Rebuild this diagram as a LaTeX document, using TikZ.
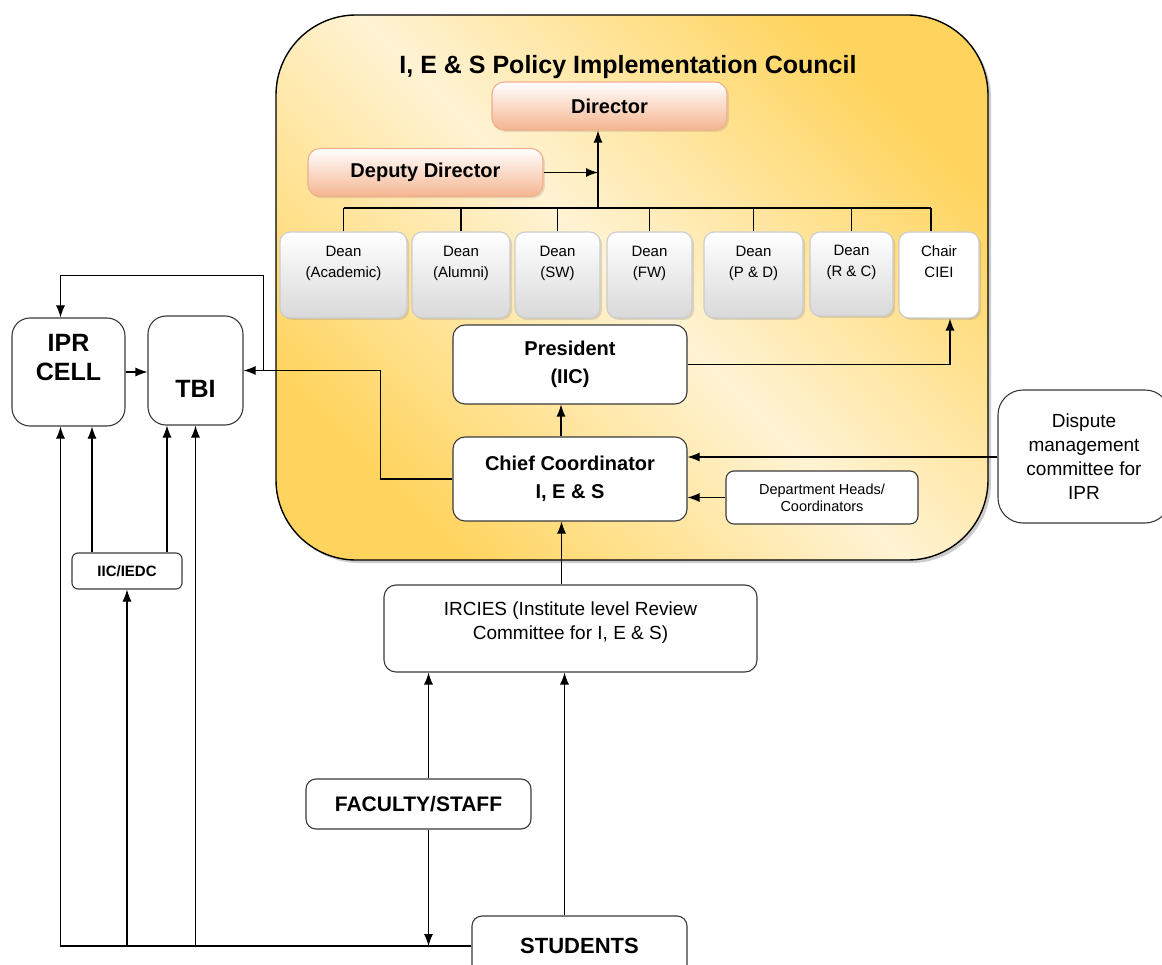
\documentclass[tikz,border=0pt]{standalone}
\usepackage{fontspec}
\setmainfont{Liberation Sans}
\usetikzlibrary{arrows.meta,positioning,shadows}
\definecolor{gold}{HTML}{FFD45E}
\definecolor{cream}{HTML}{FFF3D4}
\definecolor{salmon}{HTML}{F5B590}
\definecolor{salmonedge}{HTML}{F0AE8A}
\definecolor{edge}{HTML}{3A3A3A}

\begin{document}
\begin{tikzpicture}[
  x=1pt, y=-1pt,
  box/.style={draw=edge, line width=1.1pt, rounded corners=12pt, align=center, fill=white, inner sep=2pt},
  council/.style={draw=black, line width=1.4pt, rounded corners=80pt, minimum width=712pt, minimum height=545pt,
    top color=gold, bottom color=gold, middle color=cream, shading angle=-45,
    drop shadow={shadow xshift=3pt, shadow yshift=-3pt, opacity=.4}},
  head/.style={box, draw=salmonedge, top color=white, bottom color=salmon, minimum width=235pt, minimum height=48pt,
    font=\fontsize{20}{24}\selectfont\bfseries, drop shadow={shadow xshift=2pt, shadow yshift=-2pt, opacity=.2}},
  dean/.style={box, draw=gray!40, rounded corners=10pt, top color=white, bottom color=gray!30, minimum height=86pt,
    font=\fontsize{15}{21}\selectfont, text depth=26pt, drop shadow={shadow xshift=2pt, shadow yshift=-2pt, opacity=.25}},
  big/.style={box, minimum width=234pt, font=\fontsize{20}{28}\selectfont\bfseries},
  arr/.style={-{Latex[length=12pt,width=9pt]}, line width=1.1pt},
  link/.style={line width=1.1pt}
]
\path[fill=white, use as bounding box] (0,0) rectangle (1162,965);

% council frame
\node[council] (council) at (632,287.5) {};
\node[font=\fontsize{25}{30}\selectfont\bfseries] (title) at (628,67) {I, E \& S Policy Implementation Council};
\node[head] (dir) at (609.5,106) {Director};
\node[head] (dep) at (425.5,172.5) {Deputy Director};
\coordinate (bus) at (598,208);

% deans
\node[dean, minimum width=127pt] (acad) at (343.5,275) {Dean\\(Academic)};
\node[dean, minimum width=98pt] (alum) at (461,275) {Dean\\(Alumni)};
\node[dean, minimum width=85pt] (sw) at (557.5,275) {Dean\\(SW)};
\node[dean, minimum width=85pt] (fw) at (649.5,275) {Dean\\(FW)};
\node[dean, minimum width=99pt] (pd) at (753.5,275) {Dean\\(P \& D)};
\node[dean, minimum width=83pt, minimum height=84pt] (rc) at (851.5,274) {Dean\\(R \& C)};
\node[dean, minimum width=80pt, top color=white, bottom color=white] (chair) at (939,275) {Chair\\CIEI};

\node[big, minimum height=79pt] (pres) at (570,364.5) {President\\(IIC)};
\node[big, minimum height=84pt] (chief) at (570,479) {Chief Coordinator\\I, E \& S};
\node[box, font=\fontsize{14.5}{17}\selectfont, rounded corners=8pt, minimum width=192pt, minimum height=53pt] (dept) at (822,497.5) {Department Heads/\\Coordinators};

% outside the council
\node[box, font=\fontsize{19}{24}\selectfont, rounded corners=25pt, minimum width=172pt, minimum height=133pt] (disp) at (1084,456.5) {Dispute\\management\\committee for\\IPR};
\node[box, font=\fontsize{25}{29}\selectfont\bfseries, rounded corners=18pt, minimum width=113pt, minimum height=108pt, text depth=29pt] (ipr) at (68.5,372) {IPR\\CELL};
\node[box, font=\fontsize{25}{29}\selectfont\bfseries, rounded corners=18pt, minimum width=95pt, minimum height=109pt, text height=54pt] (tbi) at (195.5,370.5) {TBI};
\node[box, font=\fontsize{15}{18}\selectfont\bfseries, rounded corners=6pt, minimum width=110pt, minimum height=36pt] (iic) at (127,571) {IIC/IEDC};
\node[box, font=\fontsize{19}{24}\selectfont, minimum width=373pt, minimum height=87pt, text depth=16pt] (irc) at (570.5,628.5) {IRCIES (Institute level Review\\Committee for I, E \& S)};
\node[box, font=\fontsize{21}{25}\selectfont\bfseries, rounded corners=10pt, minimum width=225pt, minimum height=50pt] (fac) at (418.5,804) {FACULTY/STAFF};
\node[box, font=\fontsize{22}{26}\selectfont\bfseries, rounded corners=10pt, minimum width=215pt, minimum height=60pt] (stu) at (579.5,946) {STUDENTS};

% council connectors
\draw[arr] (bus) -- (bus |- dir.south);
\draw[arr] (dep.east) -- (dep.east -| bus);
\draw[link] (acad.north |- bus) -- ([xshift=-8pt]chair.north |- bus);
\foreach \d in {acad,alum,sw,fw,pd,rc}
  \draw[link] (\d.north) -- (\d.north |- bus);
\draw[link] ([xshift=-8pt]chair.north) -- ([xshift=-8pt]chair.north |- bus);
\draw[arr] (pres.east) -| ([xshift=11pt]chair.south);
\draw[arr] ([xshift=-9pt]chief.north) -- ([xshift=-9pt]pres.south);
\draw[arr] (dept.west) -- (dept.west -| chief.east);
\draw[arr] ([yshift=-0.5pt]disp.west) -- ([yshift=-0.5pt]disp.west -| chief.east);
\draw[arr] ([xshift=-9pt]irc.north) -- ([xshift=-9pt]irc.north |- chief.south);

% left side
\draw[arr] (chief.west) -- ++(-72,0) |- (tbi.east);
\path (tbi.east) ++(20,0) coordinate (tap);
\draw[arr] (tap) -- ++(0,-95) -| ([xshift=-8pt]ipr.north);
\draw[arr] (ipr.east) -- (ipr.east -| tbi.west);
\draw[arr] ([xshift=-35pt]iic.north) -- ([xshift=-35pt]iic.north |- ipr.south);
\draw[arr] ([xshift=40pt]iic.north) -- ([xshift=40pt]iic.north |- tbi.south);

% bottom
\draw[arr] ([xshift=10pt]fac.north) -- ([xshift=10pt]fac.north |- irc.south);
\draw[arr] ([xshift=10pt]fac.south) -- ([xshift=10pt]fac.south |- stu.west);
\draw[arr] ([xshift=-15pt]stu.north) -- ([xshift=-15pt]stu.north |- irc.south);
\draw[arr] (stu.west) -| ([xshift=-8pt]ipr.south);
\draw[arr] (stu.west -| iic.south) -- (iic.south);
\draw[arr] (stu.west -| tbi.south) -- (tbi.south);
\end{tikzpicture}
\end{document}
